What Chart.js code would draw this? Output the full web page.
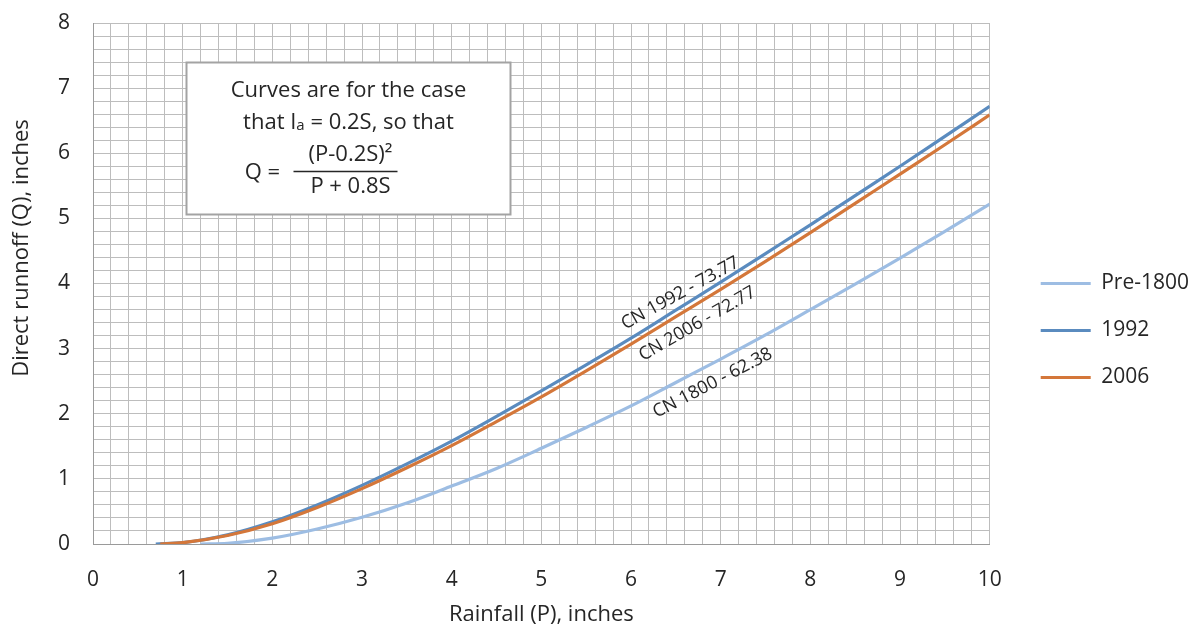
<!DOCTYPE html>
<html>
<head>
<meta charset="utf-8">
<script src="https://cdn.jsdelivr.net/npm/chart.js@4.4.1/dist/chart.umd.min.js"></script>
<style>
  html, body { margin: 0; padding: 0; background: #fff; }
  #wrap { width: 1198px; height: 628px; }
</style>
</head>
<body>
<div id="wrap"><canvas id="runoffChart" width="1198" height="628"></canvas></div>
<script>
// Rainfall P (inches) and direct runoff Q (inches)
const rainPre1800 = [1.2, 1.5, 2, 2.5, 3, 3.5, 4, 4.5, 5, 5.5, 6, 6.5, 7, 7.5, 8, 8.5, 9, 9.5, 10];
const runoffPre1800 = [0, 0.01, 0.09, 0.23, 0.41, 0.63, 0.89, 1.16, 1.47, 1.79, 2.12, 2.48, 2.84, 3.21, 3.6, 3.99, 4.39, 4.8, 5.22];

const rain1992 = [0.7, 1, 1.5, 2, 2.5, 3, 3.5, 4, 4.5, 5, 5.5, 6, 6.5, 7, 7.5, 8, 8.5, 9, 9.5, 10];
const runoff1992 = [0, 0.02, 0.14, 0.34, 0.6, 0.9, 1.23, 1.58, 1.96, 2.35, 2.75, 3.16, 3.59, 4.02, 4.46, 4.9, 5.35, 5.8, 6.26, 6.72];

const rain2006 = [0.75, 1, 1.5, 2, 2.5, 3, 3.5, 4, 4.5, 5, 5.5, 6, 6.5, 7, 7.5, 8, 8.5, 9, 9.5, 10];
const runoff2006 = [0, 0.02, 0.13, 0.31, 0.56, 0.85, 1.17, 1.51, 1.88, 2.26, 2.66, 3.07, 3.49, 3.91, 4.34, 4.78, 5.23, 5.68, 6.13, 6.59];

const seriesNames = ['Pre-1800', '1992', '2006'];
const seriesColors = ['#9dbde3', '#5a8bbf', '#d4773a'];

const xTickLabels = [0, 1, 2, 3, 4, 5, 6, 7, 8, 9, 10];
const yTickLabels = [0, 1, 2, 3, 4, 5, 6, 7, 8];

const curveLabels = ['CN 1992 - 73.77', 'CN 2006 - 72.77', 'CN 1800 - 62.38'];
const noteLines = ['Curves are for the case', ['that I', 'a', ' = 0.2S, so that'], '(P-0.2S)\u00B2', 'P + 0.8S', 'Q ='];

const FONT = "'Open Sans', 'Noto Sans', sans-serif";
const TEXT = '#262626';

function toPoints(xs, ys) {
    return xs.map((v, i) => ({ x: v, y: ys[i] }));
}

function onlyWhole(list) {
    return (value) => {
        let r = Math.round(value);
        return (Math.abs(value - r) < 1e-6 && list.includes(r)) ? String(r) : '';
    };
}

// where the rotated curve labels sit (data units) and their angle
const curveLabelSpots = [
    { x: 6.55, y: 3.85, angle: 29 },
    { x: 6.74, y: 3.38, angle: 30 },
    { x: 6.91, y: 2.47, angle: 27.5 },
];

const notesPlugin = {
    id: 'notes',
    afterLayout(chart) {
        // Excel puts the legend a bit further right/down than Chart.js
        let lg = chart.legend;
        lg.left += 25; lg.right += 25;
        lg.top += 5; lg.bottom += 5;
    },
    afterDraw(chart) {
        const { ctx, scales: { x, y } } = chart;
        ctx.save();

        // text box
        let bx1 = Math.round(x.getPixelForValue(1.04)) + 0.5;
        let bx2 = Math.round(x.getPixelForValue(4.65)) + 0.5;
        let by1 = Math.round(y.getPixelForValue(7.4)) + 0.5;
        let by2 = Math.round(y.getPixelForValue(5.07)) + 0.5;
        ctx.fillStyle = '#fff';
        ctx.fillRect(bx1, by1, bx2 - bx1, by2 - by1);
        ctx.strokeStyle = '#a3a3a3';
        ctx.lineWidth = 2;
        ctx.strokeRect(bx1, by1, bx2 - bx1, by2 - by1);

        let cx = (bx1 + bx2) / 2;
        ctx.fillStyle = TEXT;
        ctx.textBaseline = 'middle';
        ctx.textAlign = 'center';
        ctx.font = `22px ${FONT}`;
        ctx.fillText(noteLines[0], cx, by1 + 28);

        // second line, with the small "a" of Ia
        let parts = noteLines[1];
        let sizes = [22, 15, 22];
        let widths = parts.map((p, i) => { ctx.font = `${sizes[i]}px ${FONT}`; return ctx.measureText(p).width; });
        let sx = cx - widths.reduce((a, b) => a + b, 0) / 2;
        ctx.textAlign = 'left';
        parts.forEach((p, i) => {
            ctx.font = `${sizes[i]}px ${FONT}`;
            ctx.fillText(p, sx, by1 + 60 + (i === 1 ? 3 : 0));
            sx += widths[i];
        });

        ctx.textAlign = 'center';
        ctx.font = `22px ${FONT}`;
        ctx.fillText(noteLines[2], cx + 2, by1 + 92);
        ctx.fillText(noteLines[3], cx + 2, by1 + 124);
        ctx.fillText(noteLines[4], cx - 86, by1 + 110);
        ctx.strokeStyle = TEXT;
        ctx.lineWidth = 1.5;
        ctx.beginPath();
        ctx.moveTo(cx - 55, by1 + 109);
        ctx.lineTo(cx + 49, by1 + 109);
        ctx.stroke();

        // labels along the curves
        ctx.font = `18px ${FONT}`;
        curveLabels.forEach((txt, i) => {
            let s = curveLabelSpots[i];
            ctx.save();
            ctx.translate(x.getPixelForValue(s.x), y.getPixelForValue(s.y));
            ctx.rotate(-s.angle * Math.PI / 180);
            ctx.fillText(txt, 0, 0);
            ctx.restore();
        });

        // y axis title (Excel sets it above the middle of the axis)
        ctx.save();
        ctx.font = `22px ${FONT}`;
        ctx.translate(22, chart.chartArea.top + 225);
        ctx.rotate(-Math.PI / 2);
        ctx.fillText('Direct runnoff (Q), inches', 0, 0);
        ctx.restore();

        ctx.restore();
    }
};

const rainData = [rainPre1800, rain1992, rain2006];
const runoffData = [runoffPre1800, runoff1992, runoff2006];

new Chart(document.getElementById('runoffChart'), {
    type: 'scatter',
    data: {
        datasets: seriesNames.map((name, i) => ({
            label: name,
            data: toPoints(rainData[i], runoffData[i]),
            showLine: true,
            borderColor: seriesColors[i],
            backgroundColor: seriesColors[i],
            borderWidth: 3.2,
            pointRadius: 0,
            cubicInterpolationMode: 'monotone',
            order: 3 - i,
        })),
    },
    options: {
        responsive: false,
        animation: false,
        layout: { padding: { top: 23, right: 24, bottom: 0, left: 0 } },
        plugins: {
            tooltip: { enabled: false },
            legend: {
                position: 'right',
                labels: {
                    usePointStyle: true,
                    pointStyle: 'line',
                    pointStyleWidth: 50,
                    padding: 26,
                    color: TEXT,
                    font: { family: FONT, size: 21 },
                    sort: (a, b) => a.datasetIndex - b.datasetIndex,
                },
            },
        },
        scales: {
            x: {
                type: 'linear',
                min: 0,
                max: 10,
                afterFit: (scale) => { scale.height = 84; },
                ticks: {
                    stepSize: 0.2,
                    autoSkip: false,
                    maxRotation: 0,
                    padding: 23,
                    color: TEXT,
                    font: { family: FONT, size: 21 },
                    callback: onlyWhole(xTickLabels),
                },
                grid: { color: '#bdbdbd', drawTicks: false },
                border: { color: '#9a9a9a' },
                title: {
                    display: true,
                    text: 'Rainfall (P), inches',
                    color: TEXT,
                    font: { family: FONT, size: 22 },
                    padding: { top: 0, bottom: 0 },
                },
            },
            y: {
                type: 'linear',
                min: 0,
                max: 8,
                // fixed axis width; layout padding alone decides the top edge
                afterFit: (scale) => { scale.width = 93; scale.paddingTop = 0; },
                ticks: {
                    stepSize: 0.2,
                    autoSkip: false,
                    padding: 23,
                    color: TEXT,
                    font: { family: FONT, size: 21 },
                    callback: onlyWhole(yTickLabels),
                },
                grid: { color: '#bdbdbd', drawTicks: false },
                border: { color: '#9a9a9a' },
            },
        },
    },
    plugins: [notesPlugin],
});
</script>
</body>
</html>
